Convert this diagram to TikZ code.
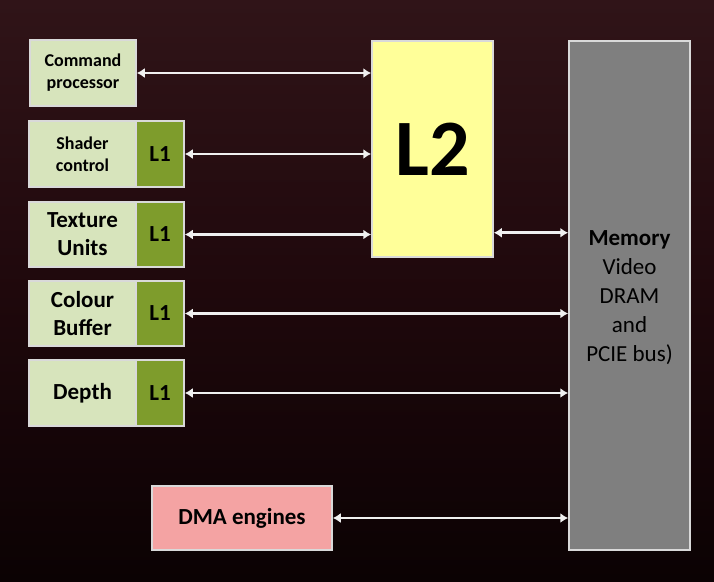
\documentclass[tikz,border=0pt]{standalone}
\usepackage{fontspec}
\setmainfont{Carlito}
\usetikzlibrary{arrows.meta}
\definecolor{bgtop}{HTML}{301418}
\definecolor{bgmid}{HTML}{1F080C}
\definecolor{bgbot}{HTML}{0B0203}
\definecolor{lgreen}{HTML}{D7E4BC}
\definecolor{dgreen}{HTML}{7E9C2C}
\definecolor{lyellow}{HTML}{FFFF99}
\definecolor{memgray}{HTML}{7F7F7F}
\definecolor{dmapink}{HTML}{F4A3A3}
\definecolor{boxline}{HTML}{D9D9D9}
\tikzset{
  box/.style={draw=boxline, line width=1.5pt, inner sep=0pt, align=center, text=black},
  unitbox/.style={box, fill=lgreen, minimum width=107pt, font=\bfseries\fontsize{23}{28}\selectfont},
  smallunit/.style={unitbox, font=\bfseries\fontsize{18}{22}\selectfont},
  lonebox/.style={box, fill=dgreen, minimum width=48pt, font=\bfseries\fontsize{23}{28}\selectfont},
  link/.style={draw=white!94!black, line width=2.8pt, {Latex[length=8pt,width=10pt]}-{Latex[length=8pt,width=10pt]}}
}
\begin{document}
\begin{tikzpicture}[x=1pt,y=-1pt]
\useasboundingbox (0,0) rectangle (714,581);
\shade[top color=bgtop, bottom color=bgbot, middle color=bgmid] (0,0) rectangle (714,581);

\node[smallunit, minimum width=106pt, minimum height=66pt] (cmd) at (83,73) {Command\\processor};
\node[smallunit, minimum height=66pt] (shader) at (82.5,154) {Shader\\control};
\node[lonebox, minimum height=66pt] (shaderl1) at (160,154) {L1};
\node[unitbox, minimum height=65pt] (tex) at (82.5,234.5) {Texture\\Units};
\node[lonebox, minimum height=65pt] (texl1) at (160,234.5) {L1};
\node[unitbox, minimum height=65pt] (col) at (82.5,313.5) {Colour\\Buffer};
\node[lonebox, minimum height=65pt] (coll1) at (160,313.5) {L1};
\node[unitbox, minimum height=66pt] (dep) at (82.5,393) {Depth};
\node[lonebox, minimum height=66pt] (depl1) at (160,393) {L1};
\node[box, fill=dmapink, minimum width=180pt, minimum height=64pt, font=\bfseries\fontsize{23}{28}\selectfont] (dma) at (242,518) {DMA engines};
\node[box, fill=lyellow, minimum width=121pt, minimum height=216pt, font=\bfseries\fontsize{80}{90}\selectfont] (l2) at (432.5,149) {L2};
\node[box, fill=memgray, minimum width=121pt, minimum height=509pt] (mem) at (629.5,295.5) {};
\node[align=center, font=\fontsize{23}{29}\selectfont, text=black] (memtxt) at (629.5,298) {\textbf{Memory}\\Video\\DRAM\\and\\PCIE bus)};

\path (l2.south east) ++(0,-25) coordinate (l2m);

\draw[link] (cmd.east) -- (cmd.east -| l2.west);
\draw[link] (shaderl1.east) -- (shaderl1.east -| l2.west);
\draw[link] (texl1.east) -- (texl1.east -| l2.west);
\draw[link] (l2m) -- (l2m -| mem.west);
\draw[link] (coll1.east) -- (coll1.east -| mem.west);
\draw[link] (depl1.east) -- (depl1.east -| mem.west);
\draw[link] (dma.east) -- (dma.east -| mem.west);
\end{tikzpicture}
\end{document}
